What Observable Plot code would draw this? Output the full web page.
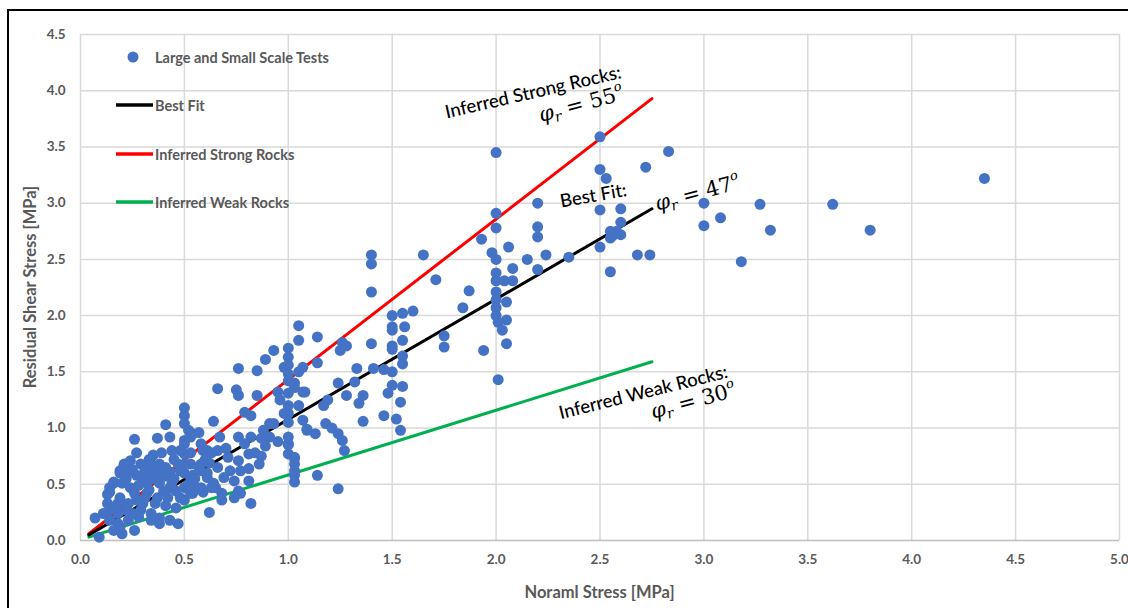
<!DOCTYPE html>
<html><head><meta charset="utf-8">
<script src="https://cdn.jsdelivr.net/npm/d3@7"></script>
<script src="https://cdn.jsdelivr.net/npm/@observablehq/plot@0.6"></script>
<style>
body{margin:0;background:#fff;overflow:hidden;width:1128px;height:608px;position:relative;}
#frame{position:absolute;left:7px;top:9px;width:1300px;height:800px;border:2px solid #000;box-sizing:border-box;}
#chart{position:absolute;left:0;top:0;}
</style></head><body><div id="frame"></div><div id="chart"></div>
<script>
// ---- data ----
const xTicks = [0,0.5,1,1.5,2,2.5,3,3.5,4,4.5,5];
const yTicks = [0,0.5,1,1.5,2,2.5,3,3.5,4,4.5];
const xTitle = "Noraml Stress [MPa]";
const yTitle = "Residual Shear Stress [MPa]";
const seriesNames = ["Large and Small Scale Tests","Best Fit","Inferred Strong Rocks","Inferred Weak Rocks"];

// [normal stress, residual shear stress]
const testPoints = [
[2.50,3.59],[2.00,3.45],[2.83,3.46],[2.72,3.32],[2.50,3.30],[2.53,3.22],[4.35,3.22],[3.00,3.00],[3.27,2.99],[3.62,2.99],
[3.08,2.87],[3.00,2.80],[3.32,2.76],[3.80,2.76],[3.18,2.48],[2.50,2.94],[2.60,2.95],[2.60,2.83],[2.55,2.75],[2.58,2.75],
[2.55,2.69],[2.50,2.61],[2.68,2.54],[2.74,2.54],[2.55,2.39],[2.00,2.91],[2.20,3.00],[2.00,2.78],[2.20,2.79],[2.20,2.70],
[1.93,2.68],[2.06,2.61],[1.98,2.56],[1.65,2.54],[2.15,2.50],[2.24,2.54],[2.35,2.52],[2.56,2.71],[2.60,2.72],[1.40,2.54],
[1.40,2.46],[2.00,2.50],[2.08,2.42],[2.20,2.41],[2.00,2.38],[2.00,2.31],[2.04,2.31],[2.08,2.31],[1.40,2.21],[1.71,2.32],
[1.87,2.22],[2.00,2.21],[2.00,2.14],[2.05,2.12],[1.84,2.07],[2.00,2.07],[2.00,2.00],[2.05,1.96],[2.01,1.94],[2.03,1.87],
[2.05,1.75],[1.94,1.69],[1.75,1.82],[1.75,1.72],[2.01,1.43],[1.50,2.00],[1.55,2.02],[1.60,2.04],[1.50,1.90],[1.56,1.90],
[1.50,1.87],[1.55,1.78],[1.50,1.73],[1.50,1.70],[1.40,1.75],[1.55,1.64],[1.55,1.57],[1.41,1.53],[1.46,1.52],[1.50,1.50],
[1.50,1.38],[1.55,1.37],[1.48,1.31],[1.36,1.29],[1.54,1.23],[1.46,1.11],[1.52,1.08],[1.54,0.98],[1.36,1.06],
[1.05,1.91],[1.05,1.78],[1.14,1.81],[0.93,1.69],[1.00,1.71],[1.26,1.76],[1.28,1.73],[1.25,1.69],[1.00,1.63],[1.00,1.56],
[0.98,1.54],[1.07,1.54],[1.14,1.58],[1.05,1.50],[1.00,1.48],[1.00,1.42],[1.03,1.36],[0.95,1.32],[1.33,1.53],[1.24,1.40],
[1.32,1.41],[1.07,1.32],[1.00,1.31],[1.28,1.29],[1.19,1.25],[1.17,1.20],[1.00,1.20],[1.05,1.20],[1.34,1.22],[1.00,1.13],
[0.98,1.13],[1.07,1.07],[1.00,1.05],[0.93,1.04],[1.18,1.04],[1.21,1.00],[1.09,0.98],[1.13,0.95],[1.24,0.95],[1.26,0.89],
[1.27,0.80],[1.00,0.86],[1.00,0.77],[1.03,0.74],[1.03,0.68],[1.03,0.62],[1.03,0.58],[1.03,0.52],[1.14,0.58],[1.24,0.46],
[0.89,1.61],[0.76,1.53],[0.85,1.51],[1.03,1.40],[0.66,1.35],[0.75,1.34],[0.76,1.29],[0.85,1.29],[1.08,1.32],[0.96,1.25],
[0.79,1.14],[0.82,1.11],[0.64,1.06],[0.91,1.04],[0.50,1.18],[0.50,1.11],[1.09,0.99],[0.88,0.98],[0.91,0.92],[0.82,0.92],
[0.76,0.92],[0.67,0.92],[0.54,0.95],[0.52,0.98],[1.00,0.92],[1.00,0.85],[1.03,0.73],[0.86,0.68],[0.81,0.77],[0.81,0.64],
[0.76,0.71],[0.77,0.62],[0.74,0.53],[0.76,0.44],[0.74,0.38],[0.82,0.33],[0.68,0.36],[0.68,0.42],[0.65,0.47],[0.69,0.56],
[0.66,0.65],[0.71,0.74],[0.66,0.80],[0.61,0.80],[0.58,0.86],[0.62,0.69],[0.58,0.62],[0.61,0.56],[0.64,0.51],[0.58,0.47],
[0.54,0.42],[0.53,0.53],[0.50,0.60],[0.50,0.68],[0.50,0.77],[0.50,0.86],[0.53,0.92],[0.50,1.04],[0.50,0.36],[0.87,0.91],
[0.89,0.84],[0.81,0.53],[0.77,0.42],
[0.41,1.03],[0.57,0.96],[0.26,0.90],[0.37,0.91],[0.43,0.92],[0.50,0.89],[0.39,0.78],[0.35,0.76],[0.44,0.80],[0.48,0.80],
[0.53,0.78],[0.59,0.80],[0.21,0.68],[0.24,0.71],[0.29,0.68],[0.34,0.68],[0.38,0.68],[0.47,0.68],[0.53,0.68],[0.58,0.68],
[0.19,0.62],[0.23,0.60],[0.27,0.58],[0.34,0.60],[0.38,0.60],[0.43,0.61],[0.48,0.62],[0.54,0.58],[0.61,0.60],[0.16,0.51],
[0.20,0.51],[0.24,0.47],[0.32,0.51],[0.38,0.51],[0.43,0.47],[0.50,0.47],[0.56,0.47],[0.63,0.47],[0.14,0.43],[0.19,0.38],
[0.26,0.42],[0.32,0.42],[0.37,0.38],[0.42,0.38],[0.48,0.38],[0.53,0.42],[0.59,0.43],[0.13,0.33],[0.18,0.33],[0.23,0.33],
[0.30,0.33],[0.36,0.33],[0.41,0.31],[0.46,0.29],[0.62,0.25],[0.14,0.27],[0.18,0.24],[0.29,0.27],[0.34,0.24],[0.38,0.20],
[0.43,0.18],[0.47,0.15],[0.14,0.18],[0.18,0.15],[0.23,0.18],[0.34,0.18],[0.38,0.15],[0.07,0.20],[0.16,0.09],[0.20,0.06],
[0.26,0.09],[0.09,0.03],[0.19,0.12],[0.13,0.41],[0.14,0.47],[0.16,0.52],[0.19,0.60],[0.21,0.67],
[0.30,0.56],[0.33,0.45],[0.27,0.36],[0.45,0.55],[0.40,0.44],[0.22,0.27],[0.28,0.21],[0.45,0.72],[0.31,0.62],[0.41,0.65],
[0.22,0.55],[0.25,0.63],[0.28,0.49],[0.31,0.38],[0.35,0.55],[0.36,0.62],[0.40,0.57],[0.44,0.52],[0.46,0.44],[0.52,0.50],
[0.55,0.55],[0.57,0.64],[0.60,0.72],[0.63,0.78],[0.70,0.82],[0.72,0.62],[0.79,0.86],[0.84,0.78],[0.87,0.75],[0.95,0.88],
[0.33,0.72],[0.27,0.78],[0.17,0.30],[0.11,0.24],[0.25,0.24]
];

// fitted / inferred envelopes (end points)
const fitX = [0.04, 2.75];
const bestFitY = [0.05, 2.95];
const strongY = [0.06, 3.93];
const weakY = [0.03, 1.59];

const colors = {dots:"#4472C4", best:"#000000", strong:"#FF0000", weak:"#00B050"};

const lineRows = (ys, key) => fitX.map((x,i)=>({x, y: ys[i], key}));
const lines = [...lineRows(bestFitY,"best"), ...lineRows(strongY,"strong"), ...lineRows(weakY,"weak")];

const labelFont = "Lato, 'Open Sans', sans-serif";
const plot = Plot.plot({
  width:1128, height:608,
  marginLeft:80, marginRight:9, marginTop:34, marginBottom:68,
  style:{background:"transparent", fontFamily:labelFont, overflow:"visible"},
  x:{domain:[0,5]},
  y:{domain:[0,4.5]},
  marks:[
    Plot.ruleX(xTicks, {stroke:"#d9d9d9", strokeWidth:1.5}),
    Plot.ruleY(yTicks.slice(1), {stroke:"#d9d9d9", strokeWidth:1.5}),
    Plot.ruleY([0], {stroke:"#bfbfbf", strokeWidth:1.5}),
    Plot.axisX({ticks:xTicks, tickSize:0, tickPadding:14, tickFormat:d3.format(".1f"), fontSize:13.5, fontWeight:"bold", fill:"#595959", label:null}),
    Plot.axisY({ticks:yTicks, tickSize:0, tickPadding:15, tickFormat:d3.format(".1f"), fontSize:13.5, fontWeight:"bold", fill:"#595959", label:null}),
    Plot.line(lines.filter(d=>d.key==="weak"), {x:"x", y:"y", stroke:colors.weak, strokeWidth:3}),
    Plot.line(lines.filter(d=>d.key==="strong"), {x:"x", y:"y", stroke:colors.strong, strokeWidth:3}),
    Plot.line(lines.filter(d=>d.key==="best"), {x:"x", y:"y", stroke:colors.best, strokeWidth:3}),
    Plot.dot(testPoints, {x:d=>d[0], y:d=>d[1], r:5.5, fill:colors.dots, stroke:"none"})
  ]
});
document.getElementById("chart").append(plot);

const svg = d3.select(plot);
const sx = plot.scale("x"), sy = plot.scale("y");

// axis titles
svg.append("text").attr("x", (sx.apply(0)+sx.apply(5))/2).attr("y", 592)
  .attr("text-anchor","middle").attr("dominant-baseline","central")
  .style("font-family",labelFont).style("font-size","16.5px").style("font-weight","bold").attr("fill","#595959").text(xTitle);
svg.append("text").attr("transform",`translate(30,${(sy.apply(0)+sy.apply(4.5))/2}) rotate(-90)`)
  .attr("text-anchor","middle").attr("dominant-baseline","central")
  .style("font-family",labelFont).style("font-size","16.5px").style("font-weight","bold").attr("fill","#595959").text(yTitle);

// legend
const lg = svg.append("g").style("font-family",labelFont).style("font-size","14.5px").style("font-weight","bold").attr("text-anchor","start");
lg.append("circle").attr("cx",133).attr("cy",57).attr("r",5.5).attr("fill",colors.dots);
lg.append("text").attr("x",155).attr("y",57).attr("text-anchor","start").attr("dominant-baseline","central").attr("fill","#595959").text(seriesNames[0]);
[["best",105,seriesNames[1]],["strong",154,seriesNames[2]],["weak",202,seriesNames[3]]].forEach(([k,yy,t])=>{
  lg.append("line").attr("x1",116).attr("x2",153).attr("y1",yy).attr("y2",yy).attr("stroke",colors[k]).attr("stroke-width",3.5);
  lg.append("text").attr("x",155).attr("y",yy).attr("text-anchor","start").attr("dominant-baseline","central").attr("fill","#595959").text(t);
});

// annotations (data coordinates)
const notes = [
  {x:2.18, y:3.99, rot:-13, text:"Inferred Strong Rocks:"},
  {x:2.47, y:3.07, rot:-10, text:"Best Fit:"},
  {x:2.71, y:1.32, rot:-14, text:"Inferred Weak Rocks:"}
];
const phis = [
  {x:2.42, y:3.88, rot:-15, deg:"55"},
  {x:2.98, y:3.09, rot:-15, deg:"47"},
  {x:2.96, y:1.24, rot:-15, deg:"30"}
];
notes.forEach(n=>{
  svg.append("text").attr("transform",`translate(${sx.apply(n.x)},${sy.apply(n.y)}) rotate(${n.rot})`)
    .attr("text-anchor","middle").attr("dominant-baseline","central")
    .style("font-family",labelFont).style("font-size","18.5px").style("font-weight","500").attr("fill","#000").text(n.text);
});
phis.forEach(p=>{
  const t = svg.append("text").attr("transform",`translate(${sx.apply(p.x)},${sy.apply(p.y)+7}) rotate(${p.rot})`)
    .attr("text-anchor","middle")
    .style("font-family","'DejaVu Serif', 'Liberation Serif', serif").style("font-size","21px").attr("fill","#000");
  t.append("tspan").style("font-style","italic").text("φ");
  t.append("tspan").style("font-style","italic").style("font-size","14px").attr("dy",4).text("r");
  t.append("tspan").attr("dy",-4).text(" = " + p.deg);
  t.append("tspan").style("font-size","13px").style("font-style","italic").attr("dy",-10).text("o");
});
</script></body></html>
